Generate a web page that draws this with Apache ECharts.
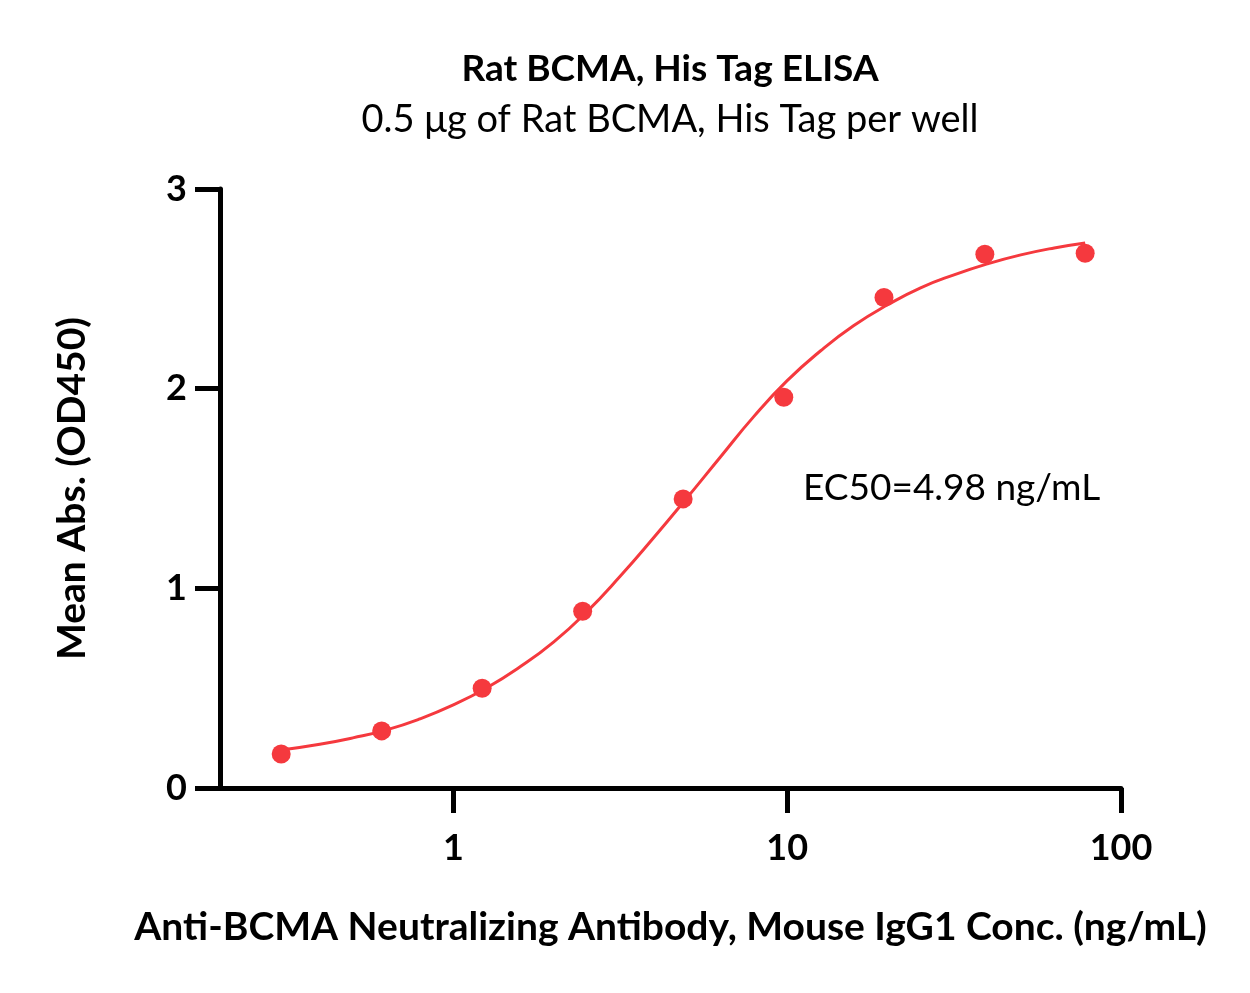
<!DOCTYPE html>
<html>
<head>
<meta charset="utf-8">
<script src="https://cdn.jsdelivr.net/npm/echarts@6/dist/echarts.min.js"></script>
<style>
html,body{margin:0;padding:0;background:#fff;}
#chart{width:1250px;height:993px;}
</style>
</head>
<body>
<div id="chart"></div>
<script>
// Measured points (concentration in ng/mL, mean absorbance OD450)
const concentrations = [0.305, 0.61, 1.22, 2.44, 4.88, 9.77, 19.5, 39.1, 78.1];
const meanAbs = [0.17, 0.286, 0.50, 0.885, 1.448, 1.957, 2.457, 2.673, 2.678];

// Fitted curve
const fitConc = [0.305, 0.398, 0.5, 0.631, 0.794, 1, 1.26, 1.585, 2, 2.51, 3.16, 3.98, 5.01, 6.31, 7.94, 10, 12.6, 15.8, 20, 25.1, 31.6, 39.8, 50.1, 63.1, 78.1];
const fitAbs  = [0.19, 0.219, 0.251, 0.291, 0.346, 0.416, 0.502, 0.607, 0.732, 0.882, 1.06, 1.253, 1.453, 1.658, 1.86, 2.04, 2.19, 2.315, 2.42, 2.505, 2.57, 2.625, 2.67, 2.705, 2.73];

const xTickValues = [1, 10, 100];
const yTickValues = [0, 1, 2, 3];

const titleText = 'Rat BCMA, His Tag ELISA';
const subtitleText = '0.5 μg of Rat BCMA, His Tag per well';
const xAxisTitle = 'Anti-BCMA Neutralizing Antibody, Mouse IgG1 Conc. (ng/mL)';
const yAxisTitle = 'Mean Abs. (OD450)';
const ec50Text = 'EC50=4.98 ng/mL';

const FONT = 'Lato';
const RED = '#f5393e';

const chart = echarts.init(document.getElementById('chart'));
chart.setOption({
  backgroundColor: '#ffffff',
  animation: false,
  grid: {left: 220, right: 129, top: 189, bottom: 205, outerBoundsMode: 'none'},
  xAxis: {
    type: 'log',
    logBase: 10,
    min: 0.2,
    max: 100,
    name: xAxisTitle,
    nameLocation: 'middle',
    nameGap: 120,
    nameTextStyle: {fontFamily: FONT, fontWeight: 'bold', fontSize: 39, color: '#000'},
    splitLine: {show: false},
    axisLine: {show: true, lineStyle: {color: '#000', width: 5}},
    axisTick: {show: true, customValues: xTickValues, length: 25, lineStyle: {color: '#000', width: 5}},
    axisLabel: {customValues: xTickValues, margin: 42, fontFamily: FONT, fontWeight: 'bold', fontSize: 36, color: '#000'}
  },
  yAxis: {
    type: 'value',
    min: 0,
    max: 3,
    interval: 1,
    name: yAxisTitle,
    nameLocation: 'middle',
    nameGap: 128,
    nameTextStyle: {fontFamily: FONT, fontWeight: 'bold', fontSize: 39, color: '#000'},
    splitLine: {show: false},
    axisLine: {show: true, lineStyle: {color: '#000', width: 5}},
    axisTick: {show: true, customValues: yTickValues, length: 25, lineStyle: {color: '#000', width: 5}},
    axisLabel: {customValues: yTickValues, margin: 33, fontFamily: FONT, fontWeight: 'bold', fontSize: 36, color: '#000'}
  },
  graphic: [
    {
      type: 'text',
      x: 670,
      y: 69,
      style: {text: titleText, align: 'center', verticalAlign: 'middle', fontFamily: FONT, fontWeight: 'bold', fontSize: 37, fill: '#000'}
    },
    {
      type: 'text',
      x: 670,
      y: 120,
      style: {text: subtitleText, align: 'center', verticalAlign: 'middle', fontFamily: FONT, fontWeight: 'normal', fontSize: 38, fill: '#000'}
    },
    {
      type: 'text',
      x: 803,
      y: 470,
      style: {text: ec50Text, fontFamily: FONT, fontSize: 37, fill: '#000'}
    }
  ],
  series: [
    {
      type: 'line',
      data: fitConc.map((c, i) => [c, fitAbs[i]]),
      smooth: true,
      showSymbol: false,
      lineStyle: {color: RED, width: 3},
      z: 2
    },
    {
      type: 'scatter',
      data: concentrations.map((c, i) => [c, meanAbs[i]]),
      symbol: 'circle',
      symbolSize: 19,
      itemStyle: {color: RED, opacity: 1},
      z: 3
    }
  ]
});
</script>
</body>
</html>
